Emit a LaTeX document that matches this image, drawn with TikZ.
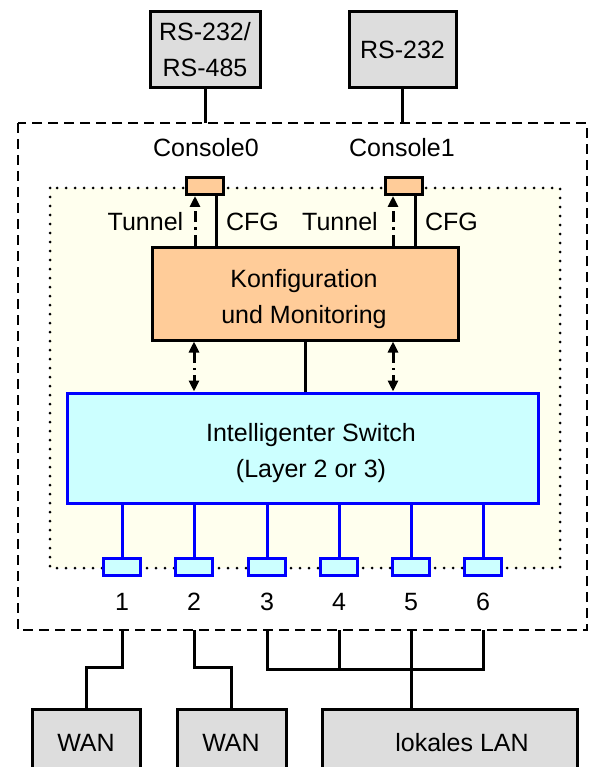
\documentclass[tikz,border=0pt]{standalone}
\usepackage{fontspec}
\setmainfont{Liberation Sans}
\usetikzlibrary{arrows.meta}
\definecolor{boxgray}{HTML}{DDDDDD}
\definecolor{peach}{HTML}{FFCC99}
\definecolor{icecyan}{HTML}{CCFFFF}
\definecolor{creme}{HTML}{FFFFEE}
\begin{document}
\begin{tikzpicture}[x=1pt,y=-1pt,line join=miter,
 font=\fontsize{25}{36}\selectfont,
 >={Triangle[length=11pt,width=10pt]},
 every node/.style={inner sep=0pt},
 txt/.style={anchor=base},
 wire/.style={line width=3pt},
 graybox/.style={draw,line width=3pt,fill=boxgray,align=center},
 portbox/.style={draw,line width=3pt,minimum width=37pt,minimum height=17pt},
 tunnel/.style={line width=3pt,dash pattern=on 11pt off 5pt on 2.5pt off 5pt}]
 \useasboundingbox (0,0) rectangle (603,767);
 \coordinate (otl) at (18,123);
 \coordinate (obr) at (587,630);
 \coordinate (bus) at (0,669);
 \draw[line width=2.8pt,dash pattern=on 10pt off 6pt] (otl) rectangle (obr);
 \draw[fill=creme,line width=3pt,line cap=round,dash pattern=on 0pt off 9pt] (50,188) rectangle (560,568);
 \node[graybox,minimum width=110pt,minimum height=76pt] (rsa) at (205,50) {RS-232/\\RS-485};
 \node[graybox,minimum width=107pt,minimum height=76pt] (rsb) at (402.5,50) {RS-232};
 \draw[wire] (rsa.south) -- (rsa.south |- otl);
 \draw[wire] (rsb.south) -- (rsb.south |- otl);
 \node[txt] (lab0) at (206,157) {Console0};
 \node[txt] (lab1) at (402,157) {Console1};
 \node[portbox,fill=peach] (con0) at (205,186) {};
 \node[portbox,fill=peach] (con1) at (404,186) {};
 \node[draw,line width=3pt,fill=peach,minimum width=306pt,minimum height=93pt] (konf) at (305,293.5) {};
 \node[align=center] (konftxt) at (304,299.5) {Konfiguration\\und Monitoring};
 \node[draw=blue,line width=3pt,fill=icecyan,minimum width=471pt,minimum height=110pt] (sw) at (302.5,448) {};
 \node[align=center] (swtxt) at (311,453.5) {Intelligenter Switch\\(Layer 2 or 3)};
 \draw[tunnel,->] ([xshift=-10pt]con0.south |- konf.north) -- ([xshift=-10pt]con0.south);
 \draw[wire] ([xshift=11pt]con0.south) -- ([xshift=11pt]con0.south |- konf.north);
 \draw[tunnel,->] ([xshift=-11pt]con1.south |- konf.north) -- ([xshift=-11pt]con1.south);
 \draw[wire] ([xshift=11pt]con1.south) -- ([xshift=11pt]con1.south |- konf.north);
 \node[txt] (tun0) at (145.5,230) {Tunnel};
 \node[txt] (cfg0) at (252.5,230) {CFG};
 \node[txt] (tun1) at (340,230) {Tunnel};
 \node[txt] (cfg1) at (451.5,230) {CFG};
 \draw[tunnel,<->] ([xshift=-11pt]con0.south |- konf.south) -- ([xshift=-11pt]con0.south |- sw.north);
 \draw[tunnel,<->] ([xshift=-11pt]con1.south |- konf.south) -- ([xshift=-11pt]con1.south |- sw.north);
 \draw[wire] (konf.south) -- (konf.south |- sw.north);
 \foreach \n/\x in {1/122,2/194,3/267,4/339,5/411,6/483}{
 \node[portbox,draw=blue,fill=icecyan] (p\n) at (\x,567) {};
 \node[txt] (num\n) at (\x,610) {\n};
 \draw[wire,blue] (p\n.north) -- (p\n.north |- sw.south);
 }
 \node[graybox,minimum width=108pt,minimum height=81pt] (wan1) at (86,749.5) {};
 \node[txt] (wan1txt) at (86,751) {WAN};
 \node[graybox,minimum width=109pt,minimum height=81pt] (wan2) at (231.5,749.5) {};
 \node[txt] (wan2txt) at (231,751) {WAN};
 \node[graybox,minimum width=255pt,minimum height=81pt] (lan) at (449.5,749.5) {};
 \node[txt] (lantxt) at (462,751) {lokales LAN};
 \draw[wire] (p1 |- obr) -- ++(0,37) -| (wan1.north);
 \draw[wire] (p2 |- obr) -- ++(0,37) -| (wan2.north);
 \draw[wire] (p3 |- obr) -- (p3 |- bus) -- (p6 |- bus) -- (p6 |- obr);
 \draw[wire] (p4 |- obr) -- (p4 |- bus);
 \draw[wire] (p5 |- obr) -- (p5 |- lan.north);
\end{tikzpicture}
\end{document}
